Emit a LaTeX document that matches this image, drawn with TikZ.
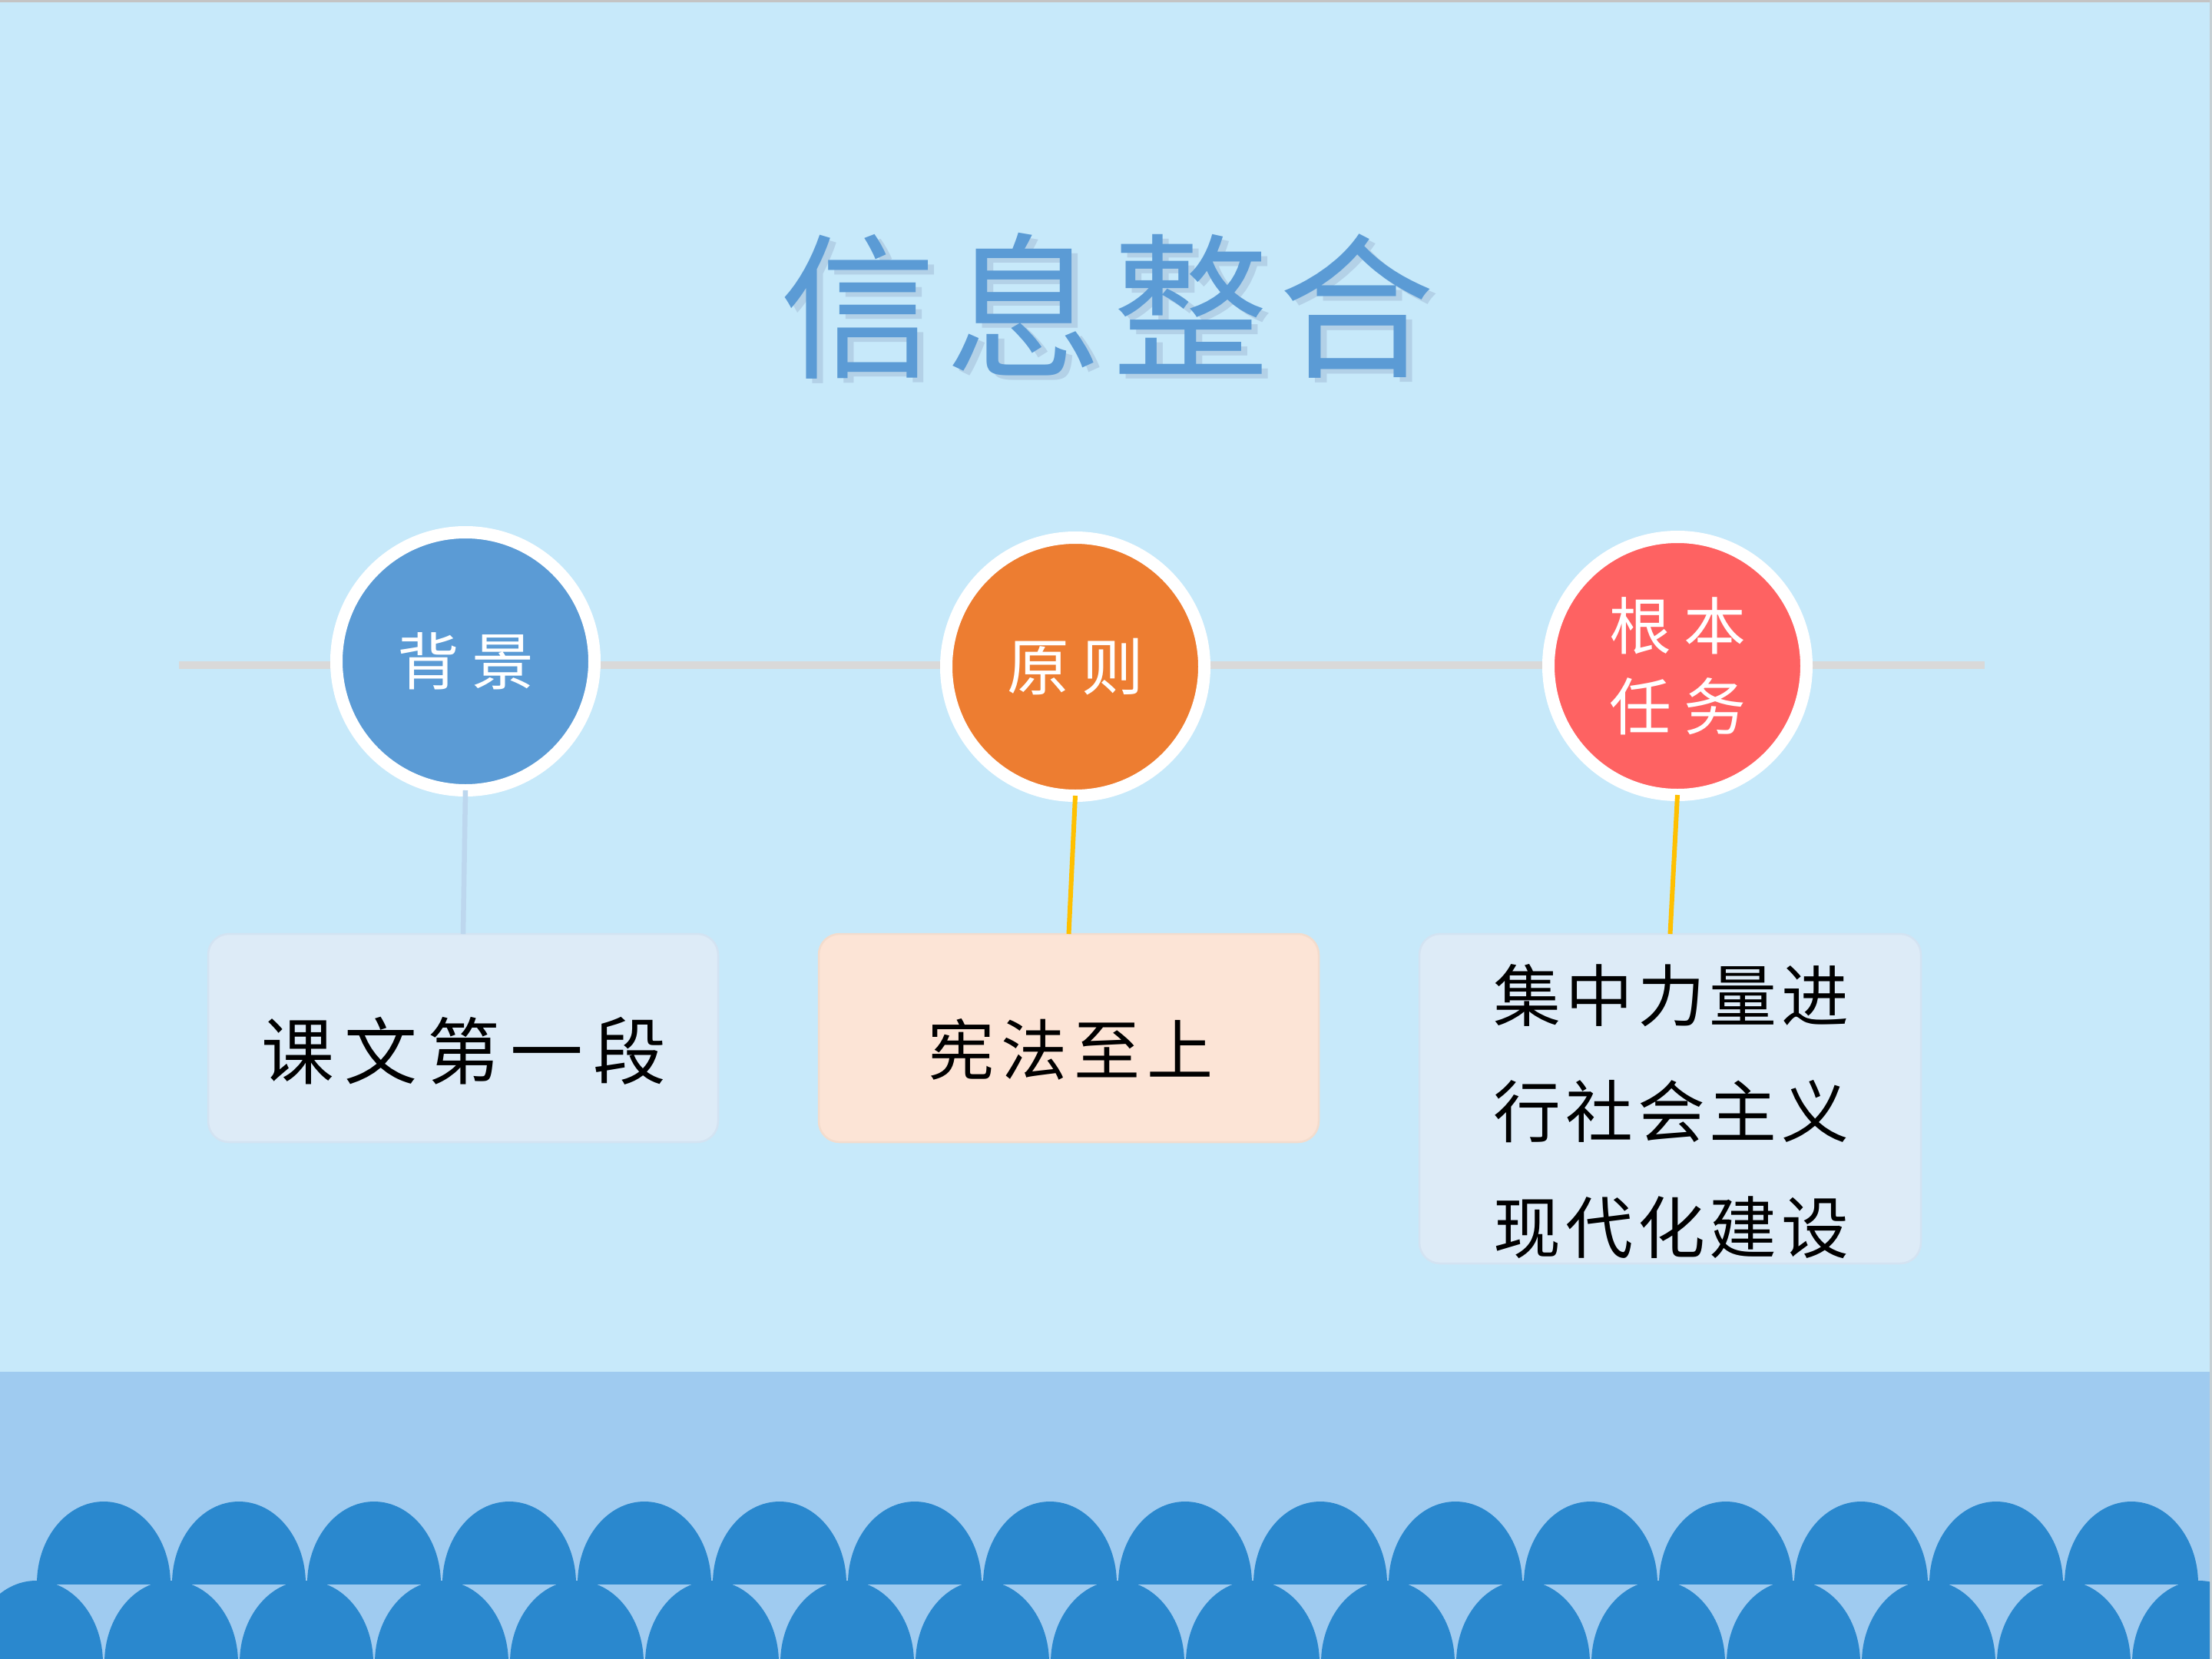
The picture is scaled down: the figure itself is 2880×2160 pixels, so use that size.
\documentclass[tikz,border=0pt]{standalone}
\usepackage{fontspec}
\newfontfamily\cjk{Noto Sans CJK SC}
\definecolor{bgc}{HTML}{C7E9FA}
\definecolor{bandc}{HTML}{9FCBF0}
\definecolor{wavec}{HTML}{2A88CE}
\definecolor{titlec}{HTML}{5B9BD5}
\definecolor{shadowc}{HTML}{AFCBE3}
\definecolor{bluec}{HTML}{5B9BD5}
\definecolor{orangec}{HTML}{ED7D31}
\definecolor{redc}{HTML}{FE6262}
\definecolor{connblue}{HTML}{BDD7EE}
\definecolor{connyellow}{HTML}{FFC000}
\definecolor{boxblue}{HTML}{DDEBF7}
\definecolor{boxblueline}{HTML}{D3E3F2}
\definecolor{boxpeach}{HTML}{FCE4D6}
\definecolor{boxpeachline}{HTML}{F3DCCD}
\definecolor{hlinec}{HTML}{D9D9D9}
\definecolor{edgec}{HTML}{C4C4C4}
\tikzset{
  titletext/.style={inner sep=0pt, text=titlec, font={\cjk\fontsize{58}{60}\selectfont}},
  bubble/.style={circle, draw=white, line width=1.6mm, minimum size=33.6mm, inner sep=0pt, outer sep=0pt, text=white, align=center, font={\cjk\fontsize{23}{30}\selectfont}},
  infobox/.style={rectangle, rounded corners=2.7mm, line width=0.25mm, inner sep=0pt, outer sep=0pt},
  bodytext/.style={inner sep=0pt, text=black, align=center},
  hline/.style={draw=hlinec, line width=1mm},
  linkblue/.style={draw=connblue, line width=0.65mm},
  linkyellow/.style={draw=connyellow, line width=0.6mm}
}
\begin{document}
\begin{tikzpicture}[x=0.1mm,y=-0.1mm]
\useasboundingbox (0,0) rectangle (2880,2160);
% background
\fill[bgc] (0,0) rectangle (2880,2160);
\fill[edgec] (0,0) rectangle (2880,3);
\fill[edgec!70!bgc] (2877,0) rectangle (2880,2160);
% bottom band with scallops
\fill[bandc] (0,1786) rectangle (2877,2160);
\begin{scope}
  \clip (0,1786) rectangle (2877,2062);
  \foreach \k in {0,...,15} \fill[wavec] ({135+176*\k},2062) ellipse [x radius=87, y radius=107];
\end{scope}
\begin{scope}
  \clip (0,1786) rectangle (2877,2160);
  \foreach \k in {0,...,16} \fill[wavec] ({47+176*\k},2165) ellipse [x radius=87, y radius=107];
\end{scope}
% title with soft shadow
\node[titletext, text=shadowc, opacity=0.8] (titleshadow) at (1450,404) {信\hspace{3.5pt}息\hspace{3.5pt}整\hspace{3.5pt}合};
\node[titletext] (title) at (1442,398) {信\hspace{3.5pt}息\hspace{3.5pt}整\hspace{3.5pt}合};
% horizontal line
\coordinate (hl) at (233,866);
\coordinate (hr) at (2584,866);
\draw[hline] (hl) -- (hr);
% circles
\node[bubble, fill=bluec] (c1) at (606,861) {背\hspace{4.6pt}景};
\node[bubble, fill=orangec] (c2) at (1400,868) {原\hspace{4.6pt}则};
\node[bubble, fill=redc] (c3) at (2184,867) {根\hspace{4.6pt}本\\任\hspace{4.6pt}务};
% boxes
\node[infobox, fill=boxblue, draw=boxblueline, minimum width=66.4mm, minimum height=27.1mm] (b1) at (603,1351.5) {};
\node[infobox, fill=boxpeach, draw=boxpeachline, minimum width=65.1mm, minimum height=27.1mm] (b2) at (1391.5,1351.5) {};
\node[infobox, fill=boxblue, draw=boxblueline, minimum width=65.3mm, minimum height=42.9mm] (b3) at (2174.5,1430.5) {};
% connectors
\draw[linkblue] (c1.south) -- (b1.north);
\draw[linkyellow] (c2.south) -- (b2.north);
\draw[linkyellow] (c3.south) -- (b3.north);
% box texts
\node[bodytext, font={\cjk\fontsize{27}{30}\selectfont}] (t1) at (604,1368) {课\hspace{3.7pt}文\hspace{3.7pt}第\hspace{3.7pt}一\hspace{3.7pt}段};
\node[bodytext, font={\cjk\fontsize{24.5}{30}\selectfont}] (t2) at (1394,1366) {宪\hspace{2.5pt}法\hspace{2.5pt}至\hspace{2.5pt}上};
\node[bodytext, font={\cjk\fontsize{25}{43}\selectfont}] (t3) at (2176,1447) {集\hspace{1.7pt}中\hspace{1.7pt}力\hspace{1.7pt}量\hspace{1.7pt}进\\行\hspace{1.7pt}社\hspace{1.7pt}会\hspace{1.7pt}主\hspace{1.7pt}义\\现\hspace{1.7pt}代\hspace{1.7pt}化\hspace{1.7pt}建\hspace{1.7pt}设};
\end{tikzpicture}
\end{document}
